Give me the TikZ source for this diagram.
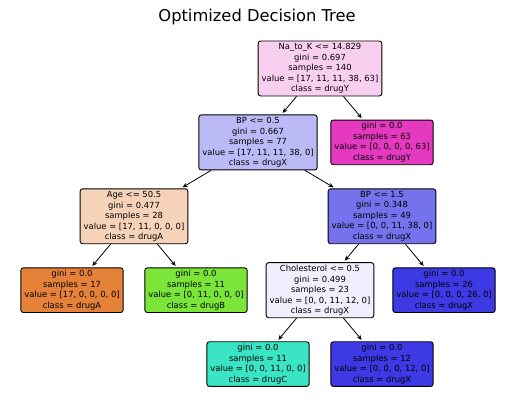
\documentclass[tikz,border=0pt]{standalone}
\usepackage{fontspec}
\setmainfont{DejaVu Sans}
\usetikzlibrary{arrows.meta}

\definecolor{rootpink}{RGB}{249,207,240}
\definecolor{bplav}{RGB}{187,186,246}
\definecolor{bpblue}{RGB}{116,114,236}
\definecolor{agepeach}{RGB}{246,210,185}
\definecolor{cholwhite}{RGB}{239,239,253}
\definecolor{drugAcol}{RGB}{229,129,57}
\definecolor{drugBcol}{RGB}{123,229,57}
\definecolor{drugCcol}{RGB}{57,229,197}
\definecolor{drugXcol}{RGB}{60,57,229}
\definecolor{drugYcol}{RGB}{229,57,192}

\begin{document}
\begin{tikzpicture}[sibling distance=124pt, level distance=73.9pt,
		level 2/.style={sibling distance=248pt},
		level 3/.style={sibling distance=124pt},
		every node/.style = {shape=rectangle, rounded corners=2.5pt,
			draw, line width=0.9pt, align=center, inner xsep=3.5pt, inner ysep=2.5pt,
			font=\fontsize{8.4}{10.5}\selectfont},
		edge from parent/.style={draw, line width=0.8pt, -{Stealth[length=5pt,width=4.5pt]}, shorten >=2pt}]
		\useasboundingbox (0,0) rectangle (515pt,-411pt);
		\node (title) at (257pt,-17.5pt) [draw=none, font=\fontsize{16.3}{19}\selectfont] {Optimized Decision Tree};
		\node (root) at (320pt,-68.5pt) [fill=rootpink] {Na\_to\_K <= 14.829\\gini = 0.697\\samples = 140\\value = [17, 11, 11, 38, 63]\\class = drugY}
			child{
				node (bpLow) [fill=bplav] {BP <= 0.5\\gini = 0.667\\samples = 77\\value = [17, 11, 11, 38, 0]\\class = drugX}
				child{
					node (age) [fill=agepeach] {Age <= 50.5\\gini = 0.477\\samples = 28\\value = [17, 11, 0, 0, 0]\\class = drugA}
					child{
						node (leafA) [fill=drugAcol] {gini = 0.0\\samples = 17\\value = [17, 0, 0, 0, 0]\\class = drugA}
					}
					child{
						node (leafB) [fill=drugBcol] {gini = 0.0\\samples = 11\\value = [0, 11, 0, 0, 0]\\class = drugB}
					}
				}
				child{
					node (bpHigh) [fill=bpblue] {BP <= 1.5\\gini = 0.348\\samples = 49\\value = [0, 0, 11, 38, 0]\\class = drugX}
					child{
						node (chol) [fill=cholwhite] {Cholesterol <= 0.5\\gini = 0.499\\samples = 23\\value = [0, 0, 11, 12, 0]\\class = drugX}
						child{
							node (leafC) [fill=drugCcol] {gini = 0.0\\samples = 11\\value = [0, 0, 11, 0, 0]\\class = drugC}
						}
						child{
							node (leafX12) [fill=drugXcol] {gini = 0.0\\samples = 12\\value = [0, 0, 0, 12, 0]\\class = drugX}
						}
					}
					child{
						node (leafX26) [fill=drugXcol] {gini = 0.0\\samples = 26\\value = [0, 0, 0, 26, 0]\\class = drugX} %pure drugX leaf
					}
				}
			}
			child{
				node (leafY) [fill=drugYcol] {gini = 0.0\\samples = 63\\value = [0, 0, 0, 0, 63]\\class = drugY}
			};
	\end{tikzpicture}
\end{document}
